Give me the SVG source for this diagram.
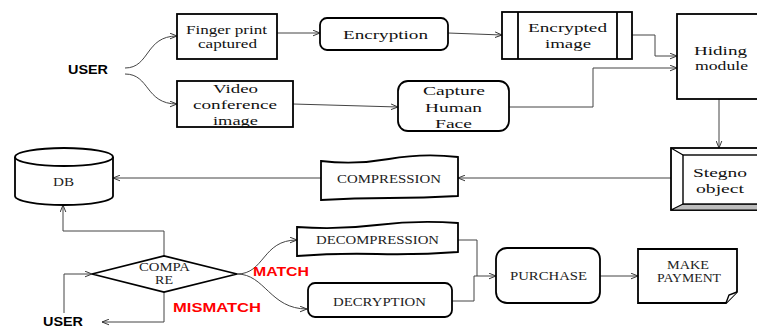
<svg xmlns="http://www.w3.org/2000/svg" width="757" height="329" viewBox="0 0 757 329">
<defs>
<marker id="arr" viewBox="0 0 10 10" refX="10" refY="5" markerWidth="7" markerHeight="7" orient="auto" markerUnits="userSpaceOnUse">
<path d="M0,1 L10,5 L0,9" fill="none" stroke="#333" stroke-width="1.4"/>
</marker>
<style>
.n{fill:#fff;stroke:#000;stroke-width:1.8}
.t{font-family:"Liberation Serif","Times New Roman",serif;font-size:13px;fill:#111}
.s{font-family:"Liberation Serif","Times New Roman",serif;font-size:12px;fill:#222}
.b{font-family:"Liberation Sans",Arial,sans-serif;font-weight:bold;font-size:12px;fill:#000}
.r{font-family:"Liberation Sans",Arial,sans-serif;font-weight:bold;font-size:13px;fill:#ff0000}
.c{fill:none;stroke:#444;stroke-width:1;marker-end:url(#arr)}
.l{fill:none;stroke:#444;stroke-width:1}
</style>
</defs>
<rect width="757" height="329" fill="#fff"/>

<g id="connectors">
<path class="c" d="M125,68 C150,68 145,36 177,36"/>
<path class="c" d="M125,74 C150,74 145,104 177,104"/>
<path class="c" d="M277,33 L320,33"/>
<path class="c" d="M448,33 L502,35"/>
<path class="c" d="M293,104 L398,107"/>
<path class="c" d="M632,35 H655 V56 H677"/>
<path class="c" d="M509,107 H593 V68 H677"/>
<path class="c" d="M719,99 V148"/>
<path class="c" d="M671,178 H458"/>
<path class="c" d="M321,178 H113"/>
<path class="c" d="M164,256 V231 H63 V205"/>
<path class="c" d="M64,313 V274 H92"/>
<path class="c" d="M164,292 V322 H102"/>
<path class="c" d="M237,274 C265,274 262,240 297,240"/>
<path class="c" d="M237,274 C265,274 270,309 307,309"/>
<path class="l" d="M458,240 H477 V276"/>
<path class="c" d="M452,301 H474 V276 H496"/>
<path class="c" d="M600,276 H638"/>
</g>

<g id="user-top"><text class="b" x="68" y="74" textLength="40" lengthAdjust="spacingAndGlyphs">USER</text></g>

<g id="fingerprint">
<rect class="n" x="177" y="14" width="100" height="45"/>
<text class="t" x="186" y="34" textLength="81" lengthAdjust="spacingAndGlyphs">Finger print</text>
<text class="t" x="198" y="48" textLength="59" lengthAdjust="spacingAndGlyphs">captured</text>
</g>

<g id="video">
<rect class="n" x="177" y="81" width="116" height="46"/>
<text class="t" x="213" y="93" textLength="45" lengthAdjust="spacingAndGlyphs">Video</text>
<text class="t" x="193" y="109" textLength="84" lengthAdjust="spacingAndGlyphs">conference</text>
<text class="t" x="213" y="125" textLength="45" lengthAdjust="spacingAndGlyphs">image</text>
</g>

<g id="encryption">
<rect class="n" x="320" y="18" width="128" height="32" rx="7"/>
<text class="t" x="343" y="39" font-size="14" textLength="85" lengthAdjust="spacingAndGlyphs">Encryption</text>
</g>

<g id="encrypted-image">
<rect class="n" x="502" y="12" width="130" height="47"/>
<line class="n" x1="518" y1="12" x2="518" y2="59"/>
<line class="n" x1="617" y1="12" x2="617" y2="59"/>
<text class="t" x="528" y="32" textLength="79" lengthAdjust="spacingAndGlyphs">Encrypted</text>
<text class="t" x="545" y="48" textLength="46" lengthAdjust="spacingAndGlyphs">image</text>
</g>

<g id="capture-face">
<rect class="n" x="398" y="81" width="111" height="50" rx="10"/>
<text class="t" x="423" y="95" textLength="62" lengthAdjust="spacingAndGlyphs">Capture</text>
<text class="t" x="425" y="112" textLength="57" lengthAdjust="spacingAndGlyphs">Human</text>
<text class="t" x="435" y="128" textLength="37" lengthAdjust="spacingAndGlyphs">Face</text>
</g>

<g id="hiding-module">
<rect class="n" x="677" y="14" width="100" height="85"/>
<text class="t" x="694" y="55" textLength="53" lengthAdjust="spacingAndGlyphs">Hiding</text>
<text class="t" x="695" y="70" textLength="53" lengthAdjust="spacingAndGlyphs">module</text>
</g>

<g id="stegno-object">
<rect class="n" x="671" y="148" width="100" height="62"/>
<path d="M671,210 L683,204 H771 V210 Z" fill="#bdbdbd" stroke="#000" stroke-width="1.2"/>
<rect x="683" y="155" width="88" height="49" fill="#fff" stroke="#000" stroke-width="1.4"/>
<line x1="671" y1="148" x2="683" y2="155" stroke="#000" stroke-width="1.2"/>
<text class="t" x="693" y="177" textLength="54" lengthAdjust="spacingAndGlyphs">Stegno</text>
<text class="t" x="696" y="193" textLength="48" lengthAdjust="spacingAndGlyphs">object</text>
</g>

<g id="compression">
<path class="n" d="M321,161 Q355,165 389,159 T458,157 V196 Q424,198 389,198 T321,200 Z"/>
<text class="s" x="337" y="183" textLength="104" lengthAdjust="spacingAndGlyphs">COMPRESSION</text>
</g>

<g id="db">
<path class="n" d="M15,157 V196 A49,9 0 0 0 113,196 V157"/>
<ellipse class="n" cx="64" cy="157" rx="49" ry="9"/>
<text class="s" x="53" y="186" font-size="11" textLength="21" lengthAdjust="spacingAndGlyphs">DB</text>
</g>

<g id="compare">
<path class="n" d="M92,274 L164,256 L237,274 L164,292 Z"/>
<text class="s" x="139" y="271" font-size="10.5" textLength="51" lengthAdjust="spacingAndGlyphs">COMPA</text>
<text class="s" x="155" y="284" font-size="10.5" textLength="18" lengthAdjust="spacingAndGlyphs">RE</text>
</g>

<g id="match-label"><text class="r" x="253" y="276" textLength="56" lengthAdjust="spacingAndGlyphs">MATCH</text></g>
<g id="mismatch-label"><text class="r" x="173" y="312" textLength="88" lengthAdjust="spacingAndGlyphs">MISMATCH</text></g>
<g id="user-bottom"><text class="b" x="43" y="326" font-size="11" textLength="40" lengthAdjust="spacingAndGlyphs">USER</text></g>

<g id="decompression">
<path class="n" d="M297,227 Q337,230 377,225 T458,223 V252 Q418,255 377,254 T297,256 Z"/>
<text class="s" x="316" y="244" textLength="123" lengthAdjust="spacingAndGlyphs">DECOMPRESSION</text>
</g>

<g id="decryption">
<rect class="n" x="308" y="283" width="144" height="34" rx="7"/>
<text class="s" x="333" y="306" textLength="93" lengthAdjust="spacingAndGlyphs">DECRYPTION</text>
</g>

<g id="purchase">
<rect class="n" x="496" y="248" width="104" height="55" rx="11"/>
<text class="s" x="510" y="280" textLength="77" lengthAdjust="spacingAndGlyphs">PURCHASE</text>
</g>

<g id="make-payment">
<path class="n" d="M638,249 H737 V292 L726,303 H638 Z"/>
<path d="M726,303 L729,295 L737,292" fill="#fff" stroke="#000" stroke-width="1.4"/>
<text class="s" x="667" y="269" font-size="11" textLength="42" lengthAdjust="spacingAndGlyphs">MAKE</text>
<text class="s" x="657" y="282" font-size="11" textLength="64" lengthAdjust="spacingAndGlyphs">PAYMENT</text>
</g>
</svg>
